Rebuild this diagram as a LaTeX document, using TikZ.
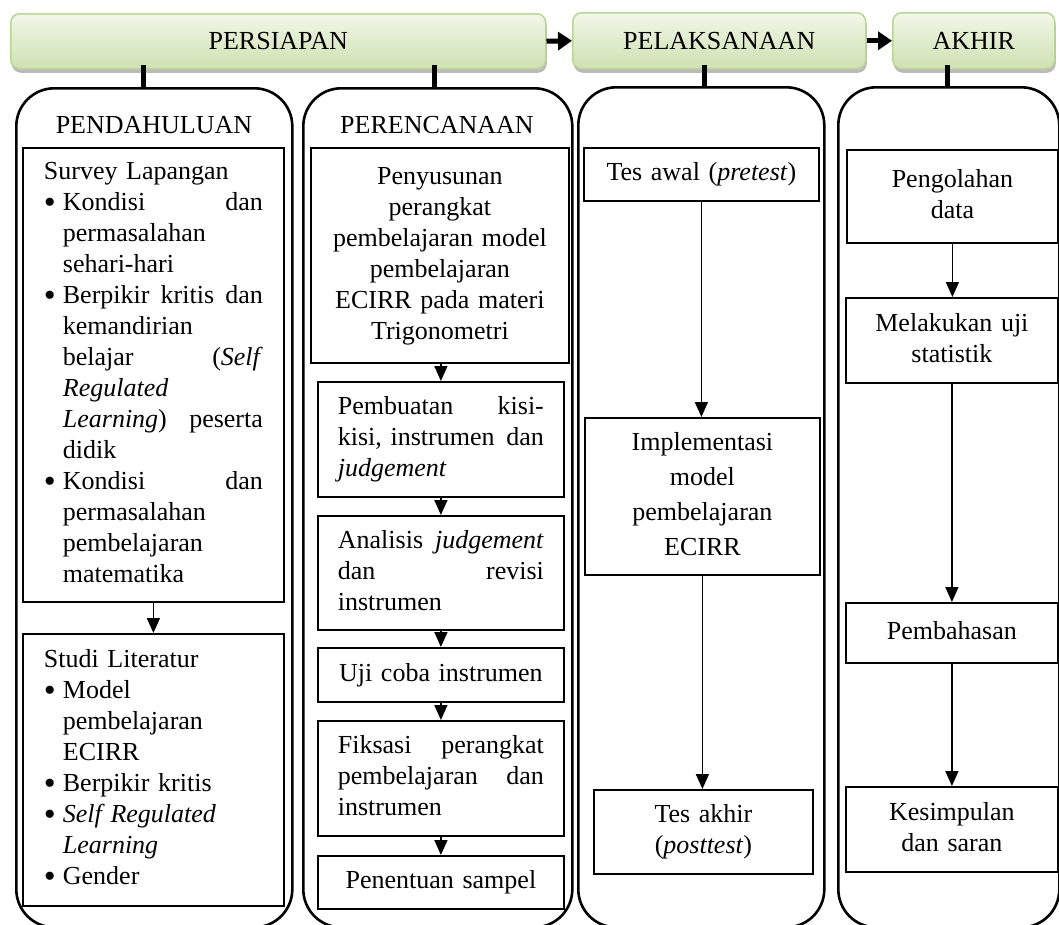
\documentclass[tikz,border=0pt]{standalone}
\usepackage{fontspec}
\setmainfont{Liberation Serif}
\usetikzlibrary{arrows.meta,shadows,calc}
\definecolor{bnTop}{HTML}{F1F7E8}
\definecolor{bnBot}{HTML}{CFE1B2}
\definecolor{bnEdge}{HTML}{BCD495}
\newcommand\fsz{\fontsize{26}{31}\selectfont}
\newcommand\fszw{\fontsize{26}{35}\selectfont}
\newcommand\bdot{\raisebox{-2.5pt}{\fontsize{34}{31}\selectfont\textbullet}}
\newcommand\bitem[1]{\makebox[19pt][l]{\bdot}#1}
\newcommand\citem[1]{\hspace*{19pt}#1}
\hyphenpenalty=10000
\exhyphenpenalty=10000
\begin{document}
\begin{tikzpicture}[x=1pt,y=-1pt,
  banner/.style={draw=bnEdge, line width=1.5pt, rounded corners=9pt,
    top color=bnTop, bottom color=bnBot,
    drop shadow={shadow xshift=1pt, shadow yshift=-4pt, opacity=0.45, fill=black!60},
    font=\fsz, inner sep=0pt, anchor=north west},
  bigarrow/.style={line width=5pt, -{Triangle[length=14pt,width=18pt]}},
  stub/.style={line width=5pt},
  column/.style={draw, line width=2.6pt, rounded corners=38pt, inner sep=0pt, anchor=north west},
  title/.style={font=\fsz, inner sep=0pt},
  box/.style={draw, line width=1.8pt, inner ysep=0pt, font=\fsz, anchor=north west,
    execute at begin node=\strut, execute at end node=\strut},
  arr/.style={line width=1.6pt, -{Triangle[length=15pt,width=13pt]}}
]
\useasboundingbox (0,0) rectangle (1059,924);
\clip (0,0) rectangle (1059,924);

% columns
\node[column, minimum width=276pt, minimum height=839pt] (c1) at (15,87) {};
\node[column, minimum width=269pt, minimum height=839pt] (c2) at (302,87) {};
\node[column, minimum width=246pt, minimum height=840pt] (c3) at (577,86) {};
\node[column, minimum width=221pt, minimum height=840pt] (c4) at (837,86) {};

% banner
\node[banner, minimum width=535pt, minimum height=55pt] (ps) at (10,13) {PERSIAPAN};
\node[banner, minimum width=293pt, minimum height=56pt] (pl) at (572,12) {PELAKSANAAN};
\node[banner, minimum width=162pt, minimum height=56pt] (ak) at (892,12) {AKHIR};
\draw[bigarrow] (ps.east) -- (pl.west);
\draw[bigarrow] (pl.east) -- (ak.west);

\coordinate (s1) at (143,65);
\coordinate (s2) at (434,65);
\coordinate (s3) at (704,65);
\coordinate (s4) at (947,65);
\draw[stub] (s1) -- (s1 |- c1.north);
\draw[stub] (s2) -- (s2 |- c2.north);
\draw[stub] (s3) -- (s3 |- c3.north);
\draw[stub] (s4) -- (s4 |- c4.north);

% titles
\node[title] (t1) at (154,125) {PENDAHULUAN};
\node[title] (t2) at (437,125) {PERENCANAAN};

% column 1
\node[box, text width=219pt, inner xsep=21pt, minimum height=454pt, align=left] (sa) at (22,147) {%
Survey Lapangan\\
\bitem{Kondisi\hfill dan}\\
\citem{permasalahan}\\
\citem{sehari-hari}\\
\bitem{Berpikir\hfill kritis\hfill dan}\\
\citem{kemandirian}\\
\citem{belajar\hfill(\textit{Self}}\\
\citem{\textit{Regulated}}\\
\citem{\textit{Learning})\hfill peserta}\\
\citem{didik}\\
\bitem{Kondisi\hfill dan}\\
\citem{permasalahan}\\
\citem{pembelajaran}\\
\citem{matematika}};
\node[box, text width=219pt, inner xsep=21pt, minimum height=272pt, align=left] (sb) at (22,633) {%
Studi Literatur\\
\bitem{Model}\\
\citem{pembelajaran}\\
\citem{ECIRR}\\
\bitem{Berpikir kritis}\\
\bitem{\textit{Self Regulated}}\\
\citem{\textit{Learning}}\\
\bitem{Gender}};
\draw[arr] (sa.south) -- (sa.south |- sb.north);

% column 2
\node[box, text width=226pt, inner xsep=16pt, minimum height=215pt, align=center] (p1) at (310,147) {%
Penyusunan\\perangkat\\pembelajaran model\\pembelajaran\\ECIRR pada materi\\Trigonometri};
\node[box, text width=206pt, inner xsep=20pt, minimum height=115pt, align=left] (p2) at (317,381) {%
Pembuatan\hfill kisi-\\kisi, instrumen\hfill dan\\\textit{judgement}};
\node[box, text width=206pt, inner xsep=20pt, minimum height=114pt, align=left] (p3) at (317,515) {%
Analisis\hfill\textit{judgement}\\dan\hfill revisi\\instrumen};
\node[box, text width=216pt, inner xsep=15pt, minimum height=54pt, align=center] (p4) at (317,647) {%
Uji coba instrumen};
\node[box, text width=206pt, inner xsep=20pt, minimum height=115pt, align=left] (p5) at (317,720) {%
Fiksasi\hfill perangkat\\pembelajaran\hfill dan\\instrumen};
\node[box, text width=216pt, inner xsep=15pt, minimum height=53pt, align=center] (p6) at (317,855) {%
Penentuan sampel};
\draw[arr] (p1.south -| p2.north) -- (p2.north);
\draw[arr] (p2.south) -- (p3.north);
\draw[arr] (p3.south) -- (p4.north);
\draw[arr] (p4.south) -- (p5.north);
\draw[arr] (p5.south) -- (p6.north);

% column 3
\node[box, text width=215pt, inner xsep=10pt, minimum height=53pt, align=center] (q1) at (583,147) {%
Tes awal (\textit{pretest})};
\node[box, font=\fszw, text width=215pt, inner xsep=10pt, minimum height=157pt, align=center] (q2) at (584,417) {%
Implementasi\\model\\pembelajaran\\ECIRR};
\node[box, text width=199pt, inner xsep=10pt, minimum height=84pt, align=center] (q3) at (593,789) {%
Tes akhir\\(\textit{posttest})};
\draw[arr] (q1.south) -- (q1.south |- q2.north);
\draw[arr] (q2.south) -- (q2.south |- q3.north);

% column 4
\node[box, text width=191pt, inner xsep=10pt, minimum height=93pt, align=center] (k1) at (846,149) {%
Pengolahan\\data};
\node[box, text width=192pt, inner xsep=10pt, minimum height=85pt, align=center] (k2) at (845,297) {%
Melakukan uji\\statistik};
\node[box, text width=192pt, inner xsep=10pt, minimum height=60pt, align=center] (k3) at (845,602) {%
Pembahasan};
\node[box, text width=192pt, inner xsep=10pt, minimum height=85pt, align=center] (k4) at (845,786) {%
Kesimpulan\\dan saran};
\draw[arr] (k1.south) -- (k1.south |- k2.north);
\draw[arr] (k2.south) -- (k2.south |- k3.north);
\draw[arr] (k3.south) -- (k3.south |- k4.north);
\end{tikzpicture}
\end{document}
